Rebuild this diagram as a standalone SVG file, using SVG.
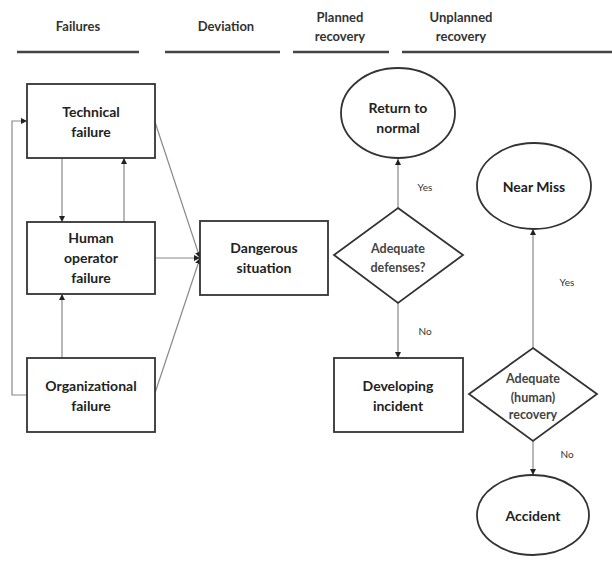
<svg xmlns="http://www.w3.org/2000/svg" width="612" height="563" viewBox="0 0 612 563">
<style>
.hd{font-family:Lato,"Liberation Sans",sans-serif;font-weight:bold;font-size:13px;fill:#333;text-anchor:middle}
.hl{stroke:#444;stroke-width:2.5}
.box{fill:#fff;stroke:#333;stroke-width:1.8}
.t{font-family:Lato,"Liberation Sans",sans-serif;font-weight:bold;font-size:14px;fill:#222;text-anchor:middle}
.d{font-family:Lato,"Liberation Sans",sans-serif;font-weight:bold;font-size:12.5px;fill:#444;text-anchor:middle}
.lb{font-family:Lato,"Liberation Sans",sans-serif;font-size:10px;fill:#333;text-anchor:middle}
.c{fill:none;stroke:#888;stroke-width:1.2}
</style>
<defs>
<marker id="ah" viewBox="0 0 10 10" refX="10" refY="5" markerWidth="6" markerHeight="6" markerUnits="userSpaceOnUse" orient="auto">
<path d="M0,0 L10,5 L0,10 z" fill="#222"/>
</marker>
</defs>
<rect width="612" height="563" fill="#fff"/>
<g id="headers">
<text class="hd" x="78" y="31">Failures</text>
<text class="hd" x="226" y="31">Deviation</text>
<text class="hd" x="340" y="22">Planned</text>
<text class="hd" x="340" y="41">recovery</text>
<text class="hd" x="461" y="22">Unplanned</text>
<text class="hd" x="461" y="41">recovery</text>
<line class="hl" x1="17" y1="52" x2="139" y2="52"/>
<line class="hl" x1="165" y1="52" x2="280" y2="52"/>
<line class="hl" x1="293" y1="52" x2="389" y2="52"/>
<line class="hl" x1="402" y1="52" x2="612" y2="52"/>
</g>
<g id="connectors">
<line class="c" x1="62" y1="158" x2="62" y2="222" marker-end="url(#ah)"/>
<line class="c" x1="124" y1="222" x2="124" y2="158" marker-end="url(#ah)"/>
<line class="c" x1="62" y1="358" x2="62" y2="294" marker-end="url(#ah)"/>
<polyline class="c" points="27,395 12,395 12,121 27,121" marker-end="url(#ah)"/>
<line class="c" x1="155" y1="122" x2="200" y2="258" marker-end="url(#ah)"/>
<line class="c" x1="155" y1="258" x2="200" y2="258" marker-end="url(#ah)"/>
<line class="c" x1="155" y1="393" x2="200" y2="258" marker-end="url(#ah)"/>
<line class="c" x1="398" y1="208" x2="398" y2="159" marker-end="url(#ah)"/>
<line class="c" x1="398" y1="303" x2="398" y2="358" marker-end="url(#ah)"/>
<line class="c" x1="533" y1="348" x2="533" y2="229" marker-end="url(#ah)"/>
<line class="c" x1="533" y1="441" x2="533" y2="475" marker-end="url(#ah)"/>
<text class="lb" x="425" y="191">Yes</text>
<text class="lb" x="425" y="335">No</text>
<text class="lb" x="567" y="286">Yes</text>
<text class="lb" x="567" y="458">No</text>
</g>
<g id="technical">
<rect class="box" x="27" y="84" width="128" height="74"/>
<text class="t" x="91" y="117">Technical</text>
<text class="t" x="91" y="137">failure</text>
</g>
<g id="human">
<rect class="box" x="27" y="222" width="128" height="72"/>
<text class="t" x="91" y="243">Human</text>
<text class="t" x="91" y="263">operator</text>
<text class="t" x="91" y="283">failure</text>
</g>
<g id="organizational">
<rect class="box" x="27" y="358" width="128" height="74"/>
<text class="t" x="91" y="391">Organizational</text>
<text class="t" x="91" y="411">failure</text>
</g>
<g id="dangerous">
<rect class="box" x="200" y="221" width="128" height="74"/>
<text class="t" x="264" y="253">Dangerous</text>
<text class="t" x="264" y="273">situation</text>
</g>
<g id="return">
<ellipse class="box" cx="398" cy="113" rx="57" ry="45"/>
<text class="t" x="398" y="113">Return to</text>
<text class="t" x="398" y="133">normal</text>
</g>
<g id="defenses">
<polygon class="box" points="398,208 463,255 398,303 334,255"/>
<text class="d" x="398" y="253">Adequate</text>
<text class="d" x="398" y="272">defenses?</text>
</g>
<g id="developing">
<rect class="box" x="334" y="358" width="129" height="74"/>
<text class="t" x="398" y="391">Developing</text>
<text class="t" x="398" y="411">incident</text>
</g>
<g id="nearmiss">
<ellipse class="box" cx="534" cy="186" rx="57" ry="43"/>
<text class="t" x="534" y="192">Near Miss</text>
</g>
<g id="human-recovery">
<polygon class="box" points="533,348 597,394 533,441 469,394"/>
<text class="d" x="533" y="383">Adequate</text>
<text class="d" x="533" y="402">(human)</text>
<text class="d" x="533" y="419">recovery</text>
</g>
<g id="accident">
<ellipse class="box" cx="533" cy="515" rx="56" ry="40"/>
<text class="t" x="533" y="521">Accident</text>
</g>
</svg>
